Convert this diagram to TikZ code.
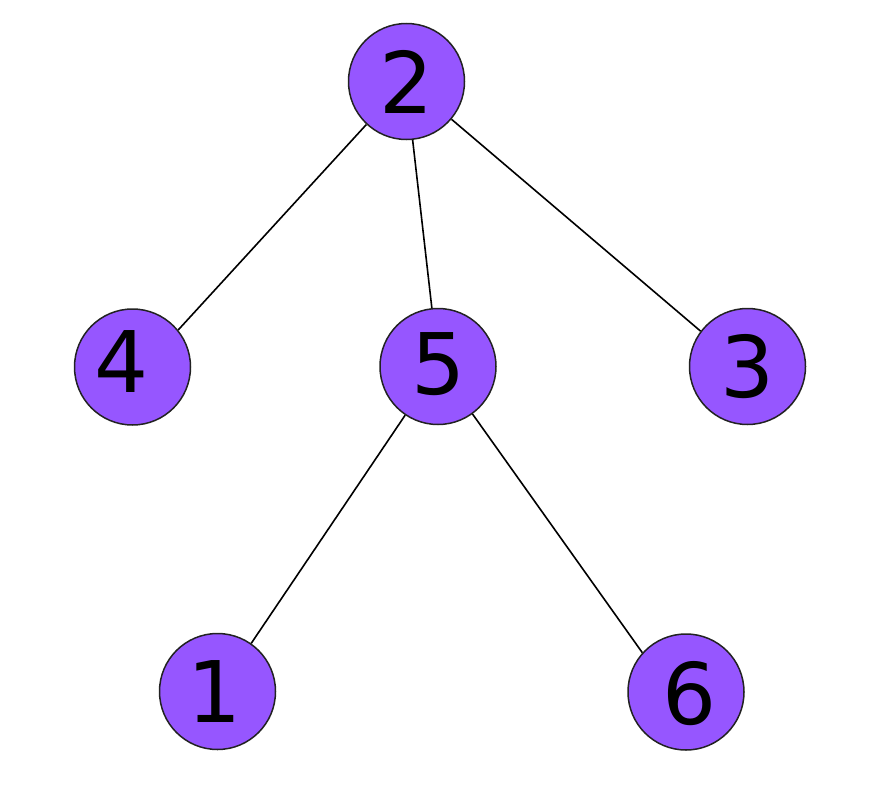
\documentclass[tikz,border=0pt]{standalone}
\usepackage{fontspec}
\setmainfont{DejaVu Sans}
\definecolor{nodefill}{RGB}{150,86,255}
\definecolor{nodeedge}{RGB}{34,34,34}
\begin{document}
\begin{tikzpicture}[x=1pt,y=-1pt,
  vert/.style={circle,draw=nodeedge,line width=1.5pt,fill=nodefill,minimum size=116pt,inner sep=0pt},
  lbl/.style={font=\fontsize{85}{100}\selectfont,inner sep=0pt},
  edge/.style={draw=black,line width=1.6pt}]
\useasboundingbox (0,0) rectangle (879,811);
\node[vert,label={[lbl]center:2}] (n2) at (406.5,81.5) {};
\node[vert,label={[lbl,xshift=-11pt,yshift=5pt]center:4}] (n4) at (132.5,367) {};
\node[vert,label={[lbl,xshift=1pt,yshift=2pt]center:5}] (n5) at (438,366.5) {};
\node[vert,label={[lbl]center:3}] (n3) at (747.5,366.5) {};
\node[vert,label={[lbl,xshift=-3pt]center:1}] (n1) at (217.5,691.5) {};
\node[vert,label={[lbl,xshift=4pt,yshift=-2pt]center:6}] (n6) at (686,692) {};
\draw[edge] (n2.227) -- (n4.39);
\draw[edge] (n2.276) -- (n5.96);
\draw[edge] (n2.320) -- (n3.143);
\draw[edge] (n5.236) -- (n1.55);
\draw[edge] (n5.306) -- (n6.138);
\end{tikzpicture}
\end{document}
